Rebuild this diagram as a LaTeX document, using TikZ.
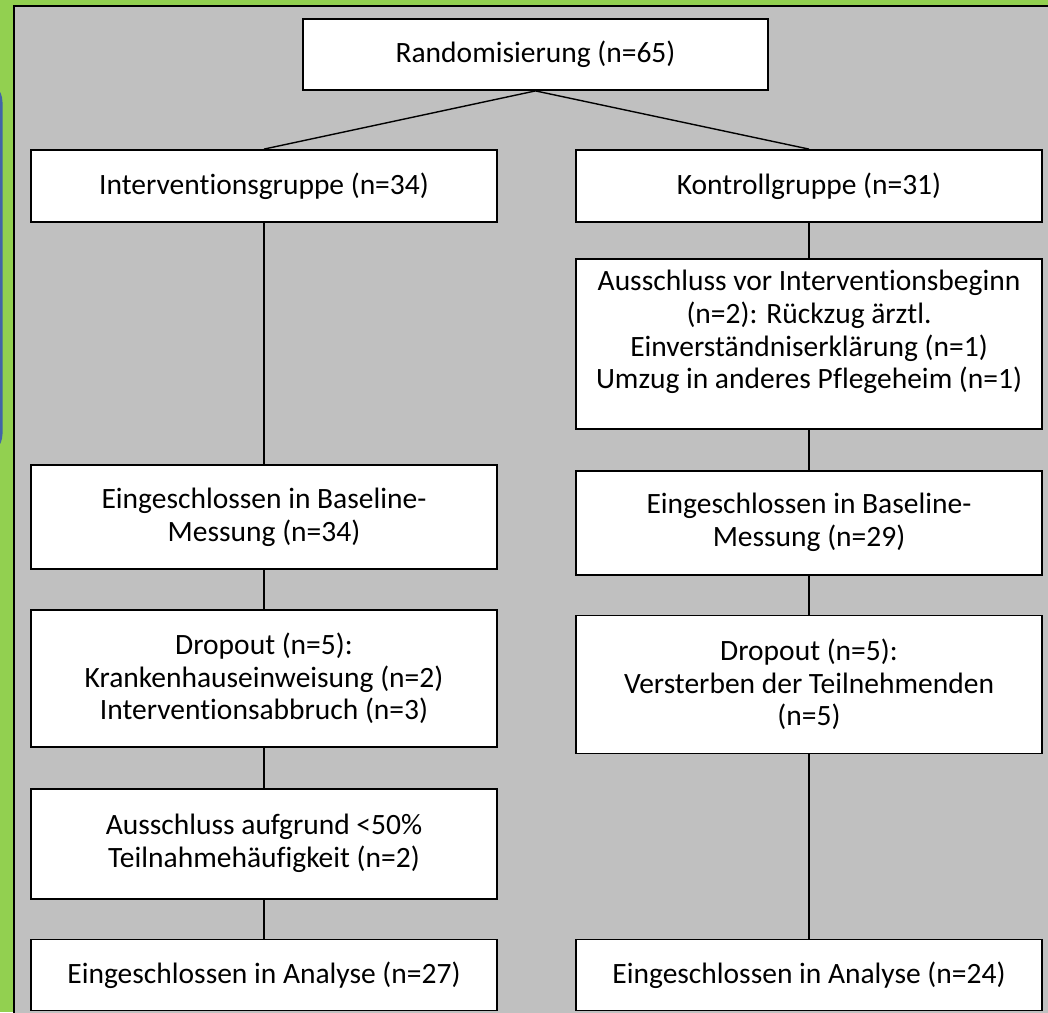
\documentclass[tikz,border=0pt]{standalone}
\usepackage{fontspec}
\setmainfont{Carlito}[Ligatures=NoCommon]
\usetikzlibrary{positioning}
\definecolor{framegreen}{RGB}{146,208,80}
\definecolor{panelgray}{RGB}{192,192,192}
\definecolor{tabblue}{RGB}{66,100,168}

\begin{document}
\begin{tikzpicture}[
    x=1pt, y=1pt,
    node distance=39pt,
    box/.style={rectangle, draw=black, line width=1.8pt, fill=white, minimum width=466pt,
                align=center, inner sep=0pt, font=\fontsize{29.5}{32.7}\selectfont},
    link/.style={line width=1.4pt}
]
    \useasboundingbox (0,0) rectangle (1048,-1012);
    \fill[framegreen] (0,0) rectangle (1048,-1012);
    \fill[tabblue, rounded corners=22pt] (-40,-80) rectangle (2.5,-456);
    \draw[line width=2.2pt, fill=panelgray] (14,-6) rectangle (1070,-1040);

    \node[box, minimum width=465pt, minimum height=71pt] (rand) at (535.5,-54.5) {Randomisierung (n=65)};
    \node[box, minimum height=72pt] (ig) at (264,-186) {Interventionsgruppe (n=34)};
    \node[box, minimum height=72pt] (kg) at (809,-186) {Kontrollgruppe (n=31)};

    \node[box, minimum height=170pt, below=35pt of kg] (kaus) {Ausschluss vor Interventionsbeginn\\(n=2): Rückzug ärztl.\\Einverständniserklärung (n=1)\\Umzug in anderes Pflegeheim (n=1)\\[-4pt]\mbox{}};
    \node[box, minimum height=104pt, below=40pt of kaus] (kbase) {Eingeschlossen in Baseline-\\Messung (n=29)};
    \node[box, minimum height=138pt, below=of kbase] (kdrop) {Dropout (n=5):\\Versterben der Teilnehmenden\\(n=5)};

    \node[box, minimum height=104pt] (ibase) at (264,-517) {Eingeschlossen in Baseline-\\Messung (n=34)};
    \node[box, minimum height=137pt, below=of ibase] (idrop) {Dropout (n=5):\\Krankenhauseinweisung (n=2)\\Interventionsabbruch (n=3)};
    \node[box, minimum height=110pt, below=40pt of idrop] (iaus) {Ausschluss aufgrund <50\%\\Teilnahmehäufigkeit (n=2)};
    \node[box, minimum height=71pt, below=of iaus] (iana) {Eingeschlossen in Analyse (n=27)};
    \node[box, minimum height=71pt] (kana) at (iana -| kg) {Eingeschlossen in Analyse (n=24)};

    \draw[link] (rand.south) -- (ig.north);
    \draw[link] (rand.south) -- (kg.north);
    \draw[link] (ig) -- (ibase);
    \draw[link] (ibase) -- (idrop);
    \draw[link] (idrop) -- (iaus);
    \draw[link] (iaus) -- (iana);
    \draw[link] (kg) -- (kaus);
    \draw[link] (kaus) -- (kbase);
    \draw[link] (kbase) -- (kdrop);
    \draw[link] (kdrop) -- (kana);
\end{tikzpicture}
\end{document}
